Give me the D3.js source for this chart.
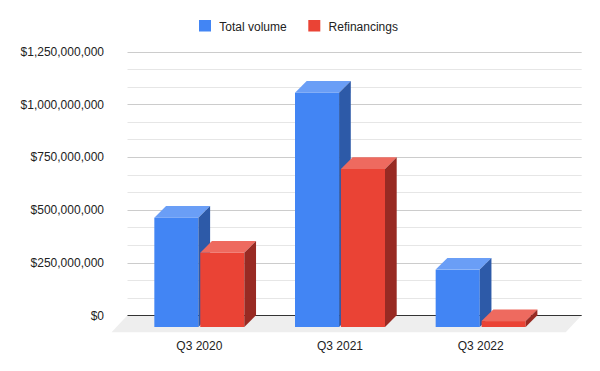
<!DOCTYPE html>
<html>
<head>
<meta charset="utf-8">
<script src="https://cdnjs.cloudflare.com/ajax/libs/d3/7.8.5/d3.min.js"></script>
<style>
  html, body { margin: 0; padding: 0; background: #fff; }
  svg { display: block; font-family: "Liberation Sans", Arial, sans-serif; }
</style>
</head>
<body>
<div id="chart"></div>
<script>
// chart data
const categories = ['Q3 2020', 'Q3 2021', 'Q3 2022'];
const series_names = ['Total volume', 'Refinancings'];
const total_volume = [518e6, 1110e6, 272e6];
const refinancings = [352e6, 749e6, 28e6];
const y_ticks = [0, 250e6, 500e6, 750e6, 1000e6, 1250e6];

const colors = {
	'Total volume': { front: '#4285f4', top: '#6a9ef6', side: '#2d5aa8' },
	'Refinancings': { front: '#ea4335', top: '#ee6a5f', side: '#982a23' }
};

const width = 600, height = 371;
const depth = 11.7;           // 3d offset of the bars
const floor_depth = 17;       // 3d offset of the floor
const grid_left = 127.5, grid_right = 581.7;

const svg = d3.select('#chart').append('svg')
	.attr('width', width)
	.attr('height', height);

// y scale on the back (grid) plane
const y = d3.scaleLinear().domain([0, 1250e6]).range([315.3, 51.5]);

// x scale on the front plane of the bars
const x0 = d3.scaleBand().domain(categories).range([129, 551]);
const x1 = d3.scaleBand().domain(series_names).range([0, 90]).paddingInner(0.04);

// minor grid lines, two between each pair of majors
const minor_ticks = [];
for (let i = 0; i < y_ticks.length - 1; i++) {
	const step = (y_ticks[i + 1] - y_ticks[i]) / 3;
	minor_ticks.push(y_ticks[i] + step, y_ticks[i] + 2 * step);
}

svg.append('g')
	.selectAll('line')
	.data(minor_ticks)
	.enter()
	.append('line')
	.attr('x1', grid_left).attr('x2', grid_right)
	.attr('y1', d => Math.round(y(d)) + 0.5)
	.attr('y2', d => Math.round(y(d)) + 0.5)
	.attr('stroke', '#e6e6e6');

svg.append('g')
	.selectAll('line')
	.data(y_ticks.filter(d => d > 0))
	.enter()
	.append('line')
	.attr('x1', grid_left).attr('x2', grid_right)
	.attr('y1', d => Math.round(y(d)) + 0.5)
	.attr('y2', d => Math.round(y(d)) + 0.5)
	.attr('stroke', '#cccccc');

// y labels
const fmt = d3.format('$,');
svg.append('g')
	.selectAll('text')
	.data(y_ticks)
	.enter()
	.append('text')
	.attr('x', 104)
	.attr('y', d => y(d) + 4.3)
	.attr('text-anchor', 'end')
	.style('font-size', '12px')
	.style('fill', '#222')
	.text(d => fmt(d));

// floor
const y_base = y(0);
svg.append('polygon')
	.attr('points', [
		[grid_left, y_base],
		[grid_right, y_base],
		[grid_right - 16, y_base + floor_depth],
		[grid_left - 16, y_base + floor_depth]
	].map(p => p.join(',')).join(' '))
	.attr('fill', '#eeeeee');

// zero line
svg.append('line')
	.attr('x1', grid_left).attr('x2', grid_right)
	.attr('y1', Math.round(y_base) + 0.5).attr('y2', Math.round(y_base) + 0.5)
	.attr('stroke', '#333')
	.attr('stroke-width', 1);

// bars, drawn left to right so the 3d faces overlap correctly
const bar_data = [];
categories.forEach((c, i) => {
	bar_data.push({ cat: c, name: 'Total volume', value: total_volume[i] });
	bar_data.push({ cat: c, name: 'Refinancings', value: refinancings[i] });
});

const group_offset = (x0.bandwidth() - 90) / 2;
const pts = arr => arr.map(p => p.join(',')).join(' ');

const bars = svg.append('g')
	.selectAll('g')
	.data(bar_data)
	.enter()
	.append('g');

bars.each(function (d) {
	const g = d3.select(this);
	const bx = x0(d.cat) + group_offset + x1(d.name);
	const bw = x1.bandwidth();
	const yt = y(d.value) + depth;
	const yb = y(0) + depth;
	const col = colors[d.name];

	g.append('rect')
		.attr('x', bx).attr('y', yt)
		.attr('width', bw).attr('height', yb - yt)
		.attr('fill', col.front);
	g.append('polygon')
		.attr('points', pts([[bx, yt], [bx + depth, yt - depth], [bx + bw + depth, yt - depth], [bx + bw, yt]]))
		.attr('fill', col.top);
	g.append('polygon')
		.attr('points', pts([[bx + bw, yt], [bx + bw + depth, yt - depth], [bx + bw + depth, yb - depth], [bx + bw, yb]]))
		.attr('fill', col.side);
});

// x labels
svg.append('g')
	.selectAll('text')
	.data(categories)
	.enter()
	.append('text')
	.attr('x', d => x0(d) + x0.bandwidth() / 2)
	.attr('y', 350)
	.attr('text-anchor', 'middle')
	.style('font-size', '12px')
	.style('fill', '#222')
	.text(d => d);

// legend
const legend_x = [199, 308.3];
const legend = svg.append('g')
	.selectAll('g')
	.data(series_names)
	.enter()
	.append('g')
	.attr('transform', (d, i) => `translate(${legend_x[i]},20)`);

legend.append('rect')
	.attr('width', 12).attr('height', 11.5)
	.attr('fill', d => colors[d].front);

legend.append('text')
	.attr('x', 20.3)
	.attr('y', 10.5)
	.style('font-size', '12px')
	.style('fill', '#222')
	.text(d => d);
</script>
</body>
</html>
